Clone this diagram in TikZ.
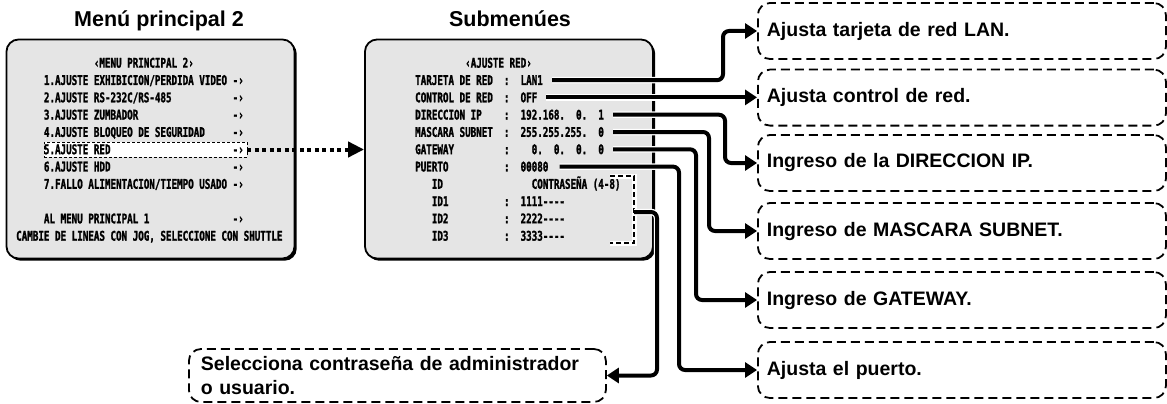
\documentclass[tikz,border=0pt]{standalone}
\usepackage{fontspec}
\setmainfont{Liberation Sans}
\newfontfamily\osdfont[FakeStretch=0.693, FakeBold=1.5]{DejaVu Sans Mono Bold}
\usetikzlibrary{arrows.meta, shadows, calc}

\begin{document}
\begin{tikzpicture}[x=1pt, y=-1pt,
    title/.style={font=\bfseries\fontsize{21.5pt}{24pt}\selectfont, inner sep=0, anchor=base},
    screen/.style={draw, line width=1.8pt, rounded corners=12pt, fill=black!10,
        general shadow={fill=black, shadow xshift=2.2pt, shadow yshift=-2.2pt},
        minimum width=288pt, minimum height=219pt, inner sep=0},
    osd/.style={font=\osdfont\fontsize{13.3pt}{14pt}\selectfont, inner sep=0, anchor=base west},
    desc/.style={draw, dash pattern=on 9pt off 5pt, line width=1.8pt, rounded corners=12pt,
        font=\bfseries\fontsize{19.5pt}{24pt}\selectfont, align=left, text width=390pt,
        inner xsep=9pt, minimum height=56pt, anchor=west},
    conn/.style={line width=4pt, rounded corners=6pt, -{Triangle[length=12pt,width=15pt]},
        preaction={draw=white, line width=6.5pt, -, shorten >=12pt}},
]
\useasboundingbox (0,0) rectangle (1167,404);

\node[title] (t1) at (159,26.5) {Menú principal 2};
\node[title] (t2) at (510,26.5) {Submenúes};

\node[screen] (main) at (150.5,149) {};
\node[screen] (sub) at (509,149) {};
\node[draw, dash pattern=on 3pt off 2pt, line width=0.8pt, fill=white,
    minimum width=203pt, minimum height=15pt, inner sep=0] (hl) at (145.5,149.5) {};

\node[osd] (h1) at (93.7,67.65) {‹MENU PRINCIPAL 2›};
\foreach \txt [count=\k] in {{1.AJUSTE EXHIBICION/PERDIDA VIDEO},{2.AJUSTE RS-232C/RS-485},
    {3.AJUSTE ZUMBADOR},{4.AJUSTE BLOQUEO DE SEGURIDAD},{5.AJUSTE RED},{6.AJUSTE HDD},
    {7.FALLO ALIMENTACION/TIEMPO USADO}}{
  \node[osd] (m\k) at (43.75,{67.65+17.3*\k}) {\txt};
  \node[osd] (a\k) at (232.45,{67.65+17.3*\k}) {-›};
}
\node[osd] (m9) at (43.75,{67.65+17.3*9}) {AL MENU PRINCIPAL 1};
\node[osd] (a9) at (232.45,{67.65+17.3*9}) {-›};
\node[osd] (m10) at (16,{67.65+17.3*10}) {CAMBIE DE LINEAS CON JOG, SELECCIONE CON SHUTTLE};

\node[osd] (h2) at (465,67.65) {‹AJUSTE~RED›};
\foreach \txt [count=\k] in {{TARJETA~DE~RED~~:~~LAN1},{CONTROL~DE~RED~~:~~OFF},
    {DIRECCION~IP~~~~:~~192.168.~~0.~~1},{MASCARA~SUBNET~~:~~255.255.255.~~0},
    {GATEWAY~~~~~~~~~:~~~~0.~~0.~~0.~~0},{PUERTO~~~~~~~~~~:~~00080},
    {~~~ID~~~~~~~~~~~~~~~~CONTRASEÑA~(4-8)},{~~~ID1~~~~~~~~~~:~~1111----},
    {~~~ID2~~~~~~~~~~:~~2222----},{~~~ID3~~~~~~~~~~:~~3333----}}{
  \node[osd] (r\k) at (415,{67.65+17.3*\k}) {\txt};
}

\draw[white, line width=5pt] (610,176) -- (634,176) -- (634,243) -- (610,243);
\draw[line width=2pt, dash pattern=on 5pt off 3pt] (610,176) -- (634,176) -- (634,243) -- (610,243);
\coordinate (bk) at (634,212);

\node[desc] (d1) at (757,31) {Ajusta tarjeta de red LAN.};
\node[desc] (d2) at (757,97.6) {Ajusta control de red.};
\node[desc] (d3) at (757,163) {Ingreso de la DIRECCION IP.};
\node[desc] (d4) at (757,231) {Ingreso de MASCARA SUBNET.};
\node[desc] (d5) at (757,300) {Ingreso de GATEWAY.};
\node[desc] (d6) at (757,370) {Ajusta el puerto.};
\node[desc, text width=393pt, inner xsep=12pt, minimum height=53pt] (p) at (188,375.5)
    {Selecciona contraseña de administrador\\o usuario.};

\draw[line width=4pt, dash pattern=on 4pt off 3.5pt, -{Triangle[length=16pt,width=15pt]}]
    (hl.east) -- (hl.east -| sub.west);

\draw[conn] ([xshift=9pt]r1.east) -| ([xshift=-34pt]d1.west) -- (d1.west);
\draw[conn] ([xshift=9pt]r2.east) -- (r2.east -| d2.west);
\draw[conn] ([xshift=9pt]r3.east) -| ([xshift=-32pt]d3.west) -- (d3.west);
\draw[conn] ([xshift=9pt]r4.east) -| ([xshift=-48pt]d4.west) -- (d4.west);
\draw[conn] ([xshift=9pt]r5.east) -| ([xshift=-61pt]d5.west) -- (d5.west);
\draw[conn] ([xshift=11pt]r6.east) -| ([xshift=-78pt]d6.west) -- (d6.west);
\draw[conn] (bk) -- (657,212) |- (p.east);
\end{tikzpicture}
\end{document}
